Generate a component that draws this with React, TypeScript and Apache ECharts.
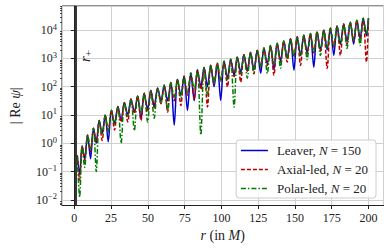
import React, { useEffect, useRef } from "react";
import * as echarts from "echarts";

// ---- data (log10 of |Re psi|) ----
const rHorizon = 1.1;
const edgeR = [2.0, 200.0];
const edgeLeaver = [-0.45, 4.42];
const edgeAxial = [-0.42, 4.4];
const edgePolar = [-0.48, 4.43];

const dipR = [
  3.6, 7.0, 11.0, 14.9, 18.9, 23.0, 27.3, 31.8, 36.3, 40.8, 45.3, 49.8, 54.3, 58.9, 63.4,
  67.9, 72.4, 76.9, 81.5, 86.0, 90.5, 95.0, 99.5, 104.1, 108.6, 113.1, 117.6, 122.1, 126.7,
  131.2, 135.7, 140.2, 144.7, 149.3, 153.8, 158.3, 162.8, 167.3, 171.9, 176.4, 180.9, 185.4,
  189.9, 194.3, 198.6,
];
const peakR = [
  5.3, 9.0, 13.0, 16.9, 21.0, 25.2, 29.6, 34.0, 38.5, 43.0, 47.5, 52.0, 56.6, 61.1, 65.6,
  70.1, 74.6, 79.2, 83.7, 88.2, 92.7, 97.2, 101.8, 106.3, 110.8, 115.3, 119.8, 124.4, 128.9,
  133.4, 137.9, 142.4, 147.0, 151.5, 156.0, 160.5, 165.0, 169.6, 174.1, 178.6, 183.1, 187.6,
  192.1, 196.4,
];
const peakExp = [
  -0.1, 0.29, 0.53, 0.8, 1.0, 1.17, 1.3, 1.44, 1.56, 1.67, 1.77, 1.86, 1.95, 2.05, 2.15, 2.26,
  2.37, 2.48, 2.59, 2.68, 2.76, 2.83, 2.9, 2.97, 3.05, 3.13, 3.21, 3.29, 3.37, 3.45, 3.53, 3.61,
  3.69, 3.76, 3.82, 3.88, 3.94, 4.0, 4.07, 4.14, 4.21, 4.28, 4.35, 4.42,
];
const dipLeaver = [
  -1.1, -0.55, -0.55, 0.0, 0.35, 0.05, 0.7, 0.8, 1.0, 1.1, 0.85, 1.2, 1.3, 1.5, 1.5, 0.64, 1.7,
  1.16, 1.5, 2.0, 2.0, 2.0, 1.52, 2.3, 2.4, 2.5, 2.55, 2.6, 2.47, 2.8, 2.6, 2.9, 3.0, 2.58, 3.1,
  3.2, 2.69, 3.3, 3.3, 3.1, 3.5, 3.6, 3.5, 3.7, 3.8,
];
const dipAxial = [
  -1.3, -0.6, -0.3, 0.05, 0.1, 0.45, 0.47, 0.75, 0.75, 1.05, 0.8, 1.1, 1.25, 1.4, 1.1, 1.5, 1.33,
  1.7, 1.55, 1.9, 1.28, 2.1, 2.2, 1.99, 2.35, 2.16, 2.55, 2.45, 2.7, 2.75, 2.4, 2.85, 2.87, 3.1,
  2.75, 3.15, 3.2, 3.25, 2.64, 3.4, 3.1, 3.5, 3.6, 3.6, 2.87,
];
const dipPolar = [
  -1.9, -0.85, -0.2, -1.0, 0.3, 0.4, 0.65, 0.0, 0.95, 0.45, 1.1, 0.75, 0.88, 1.4, 1.15, 1.6, 1.6,
  1.8, 1.9, 0.29, 1.7, 2.1, 2.2, 2.25, 1.28, 2.45, 2.3, 2.5, 2.7, 2.46, 2.8, 2.65, 3.0, 3.05, 3.1,
  2.95, 3.25, 3.1, 3.35, 3.45, 3.5, 3.35, 3.65, 3.45, 3.85,
];

const xTickLabels = ["0", "25", "50", "75", "100", "125", "150", "175", "200"];

const X_MIN = -8.4;
const X_MAX = 210.2;
const Y_MIN_EXP = -2.2;
const Y_MAX_EXP = 4.85;

const FONT = "Liberation Serif, DejaVu Serif, serif";

function buildSeries(edge: number[], dips: number[]) {
  const pts: number[][] = [[edgeR[0], Math.pow(10, edge[0])]];
  for (let i = 0; i < dipR.length; i++) {
    pts.push([dipR[i], Math.pow(10, dips[i])]);
    if (i < peakR.length) pts.push([peakR[i], Math.pow(10, peakExp[i])]);
  }
  pts.push([edgeR[1], Math.pow(10, edge[1])]);
  return pts;
}

function expLabel(v: number) {
  const n = Math.round(Math.log10(v));
  const s = n < 0 ? "\u2212" + -n : String(n);
  return "{b|10}{s|" + s + "}";
}

export default function App() {
  const ref = useRef<HTMLDivElement>(null);
  useEffect(() => {
    if (!ref.current) return;
    const chart = echarts.init(ref.current, undefined, { renderer: "svg" });
    const yMin = Math.pow(10, Y_MIN_EXP);
    const yMax = Math.pow(10, Y_MAX_EXP);
    const minorVals: number[][] = [];
    for (let n = -3; n <= 5; n++) {
      for (let k = 2; k <= 9; k++) {
        const v = k * Math.pow(10, n);
        if (v > yMin && v < yMax) minorVals.push([X_MIN, v]);
      }
    }
    const legendText: Record<string, string> = {
      Leaver: "{t|Leaver, }{i|N}{t| = 150}",
      "Axial-led": "{t|Axial-led, }{i|N}{t| = 20}",
      "Polar-led": "{t|Polar-led, }{i|N}{t| = 20}",
    };
    const lineBase = { type: "line", symbol: "none", showSymbol: false, smooth: 0.3, z: 3 };
    const legendRich = {
      t: { fontFamily: FONT, fontSize: 13, color: "#222" },
      i: { fontFamily: FONT, fontSize: 13, fontStyle: "italic", color: "#222" },
    };
    chart.setOption({
      animation: false,
      grid: { left: 60, right: 7.5, top: 6, bottom: 45.5, show: true, borderColor: "#222", borderWidth: 1, backgroundColor: "transparent" },
      xAxis: {
        type: "value",
        min: X_MIN,
        max: X_MAX,
        minInterval: 25,
        maxInterval: 25,
        axisLine: { show: true, lineStyle: { color: "#222", width: 1 } },
        axisTick: { show: true, length: 3.5, lineStyle: { color: "#222" } },
        axisLabel: {
          show: true,
          margin: 6,
          showMinLabel: false,
          showMaxLabel: false,
          fontFamily: FONT,
          fontSize: 12,
          color: "#222",
          formatter: (v: number) => {
            const idx = Math.round(v / 25);
            return Math.abs(v - idx * 25) < 1e-6 && idx >= 0 && idx < xTickLabels.length ? xTickLabels[idx] : "";
          },
        },
        splitLine: { show: true, lineStyle: { color: "#d0d0d0", width: 1 } },
        name: "{i|r}{t| (in }{i|M}{t|)}",
        nameLocation: "middle",
        nameGap: 22,
        nameTextStyle: {
          fontFamily: FONT,
          fontSize: 14,
          color: "#222",
          rich: {
            t: { fontFamily: FONT, fontSize: 14, color: "#222" },
            i: { fontFamily: FONT, fontSize: 14, fontStyle: "italic", color: "#222" },
          },
        },
      },
      yAxis: {
        type: "log",
        logBase: 10,
        min: yMin,
        max: yMax,
        axisLine: { show: true, lineStyle: { color: "#222", width: 1 } },
        axisTick: { show: true, length: 3.5, lineStyle: { color: "#222" } },
        axisLabel: {
          margin: 5,
          showMinLabel: false,
          showMaxLabel: false,
          color: "#222",
          formatter: (v: number) => expLabel(v),
          rich: {
            b: { fontFamily: FONT, fontSize: 12, color: "#222" },
            s: { fontFamily: FONT, fontSize: 8.5, color: "#222", padding: [0, 0, 7, 0] },
          },
        },
        splitLine: { show: true, lineStyle: { color: "#d0d0d0", width: 1 } },
        name: "{t|| Re }{i|ψ}{t||}",
        nameLocation: "middle",
        nameGap: 40,
        nameRotate: 90,
        nameTextStyle: {
          color: "#222",
          rich: {
            t: { fontFamily: FONT, fontSize: 14, color: "#222" },
            i: { fontFamily: FONT, fontSize: 14, fontStyle: "italic", color: "#222" },
          },
        },
      },
      legend: {
        data: ["Leaver", "Axial-led", "Polar-led"],
        orient: "vertical",
        right: 15,
        bottom: 53,
        itemWidth: 27,
        itemHeight: 12,
        itemGap: 6,
        padding: [4, 8, 3, 4],
        backgroundColor: "rgba(255,255,255,0.85)",
        borderColor: "#cccccc",
        borderWidth: 1,
        borderRadius: 3,
        itemStyle: { opacity: 0 },
        lineStyle: { width: 1.5 },
        formatter: (name: string) => legendText[name] || name,
        textStyle: {
          color: "#222",
          padding: [0, 0, 0, 4],
          rich: legendRich,
        },
      },
      graphic: [
        {
          type: "text",
          x: 76,
          y: 62,
          rotation: Math.PI / 2,
          style: {
            text: "{r|r}{s|+}",
            rich: {
              r: { fontFamily: FONT, fontSize: 15, fontStyle: "italic", fill: "#222" },
              s: { fontFamily: FONT, fontSize: 11, fill: "#222", padding: [6, 0, 0, 0] },
            },
          },
          z: 10,
        },
      ],
      series: [
        {
          ...lineBase,
          name: "Leaver",
          data: buildSeries(edgeLeaver, dipLeaver),
          lineStyle: { color: "#0000cd", width: 1.5, type: "solid" },
          itemStyle: { color: "#0000cd" },
          markLine: {
            silent: true,
            symbol: "none",
            label: { show: false },
            lineStyle: { color: "#222", width: 1.8, type: "solid" },
            data: [{ xAxis: rHorizon }],
          },
        },
        {
          ...lineBase,
          name: "Axial-led",
          data: buildSeries(edgeAxial, dipAxial),
          lineStyle: { color: "#b80000", width: 1.5, type: [4, 2] },
          itemStyle: { color: "#b80000" },
        },
        {
          ...lineBase,
          name: "Polar-led",
          data: buildSeries(edgePolar, dipPolar),
          lineStyle: { color: "#007a00", width: 1.5, type: [5, 2, 1.5, 2] },
          itemStyle: { color: "#007a00" },
        },
        {
          type: "custom",
          name: "minor",
          silent: true,
          clip: false,
          data: minorVals,
          encode: { x: 0, y: 1 },
          renderItem: (_p: any, api: any) => {
            const pt = api.coord([api.value(0), api.value(1)]);
            const y = Math.round(pt[1]) + 0.5;
            return {
              type: "line",
              shape: { x1: pt[0] - 2, y1: y, x2: pt[0], y2: y },
              style: { stroke: "#222", lineWidth: 0.8 },
            };
          },
        },
      ],
    });
    return () => chart.dispose();
  }, []);
  return <div ref={ref} style={{ width: 391, height: 251, position: "absolute", left: 0, top: 0 }} />;
}
